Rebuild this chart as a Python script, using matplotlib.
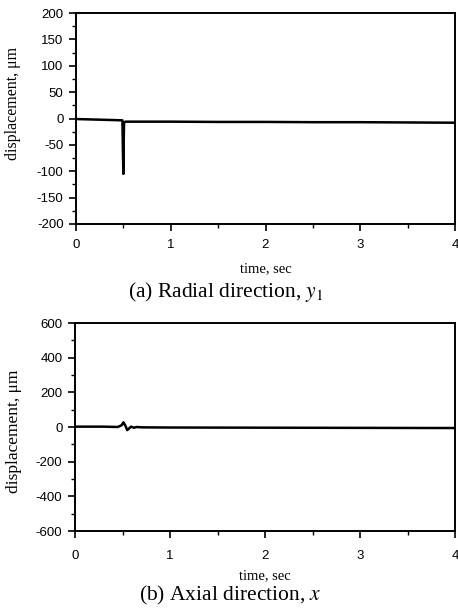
import matplotlib
matplotlib.use("Agg")
import matplotlib.pyplot as plt
from matplotlib.ticker import MultipleLocator

plt.rcParams["mathtext.fontset"] = "stix"
plt.rcParams["axes.unicode_minus"] = False

# Data
t_radial = [0.0, 0.1, 0.2, 0.3, 0.4, 0.49, 0.495, 0.5, 0.503, 0.507, 0.52, 0.6, 1.0, 1.5, 2.0, 2.5, 3.0, 3.5, 4.0]
y_radial = [-1, -1.5, -2, -2.5, -3, -3.5, -60, -105, -50, -8, -6, -6, -6, -6.5, -6.5, -7, -7, -7.5, -8]

t_axial = [0.0, 0.3, 0.45, 0.49, 0.51, 0.53, 0.55, 0.57, 0.59, 0.62, 0.65, 0.7, 1.0, 2.0, 3.0, 4.0]
y_axial = [2, 2, 0, 10, 27, 8, -18, -8, 2, -4, 0, -2, -3, -4, -5, -6]

x_ticks = [0, 1, 2, 3, 4]
radial_ticks = [-200, -150, -100, -50, 0, 50, 100, 150, 200]
axial_ticks = [-600, -400, -200, 0, 200, 400, 600]

xlabel = "time, sec"
ylabel = "displacement, \u03bcm"
caption_a = "(a) Radial direction, "
caption_b = "(b) Axial direction, "

W, H = 458, 616
fig = plt.figure(figsize=(W / 100, H / 100), dpi=100)

serif = ["Liberation Serif", "DejaVu Serif"]
sans = ["Liberation Sans", "DejaVu Sans"]


def style(ax, yticks, ymin_step, xpad, xlabpad, ylabsize):
    ax.set_xlim(0, 4)
    ax.set_xticks(x_ticks)
    ax.xaxis.set_minor_locator(MultipleLocator(0.5))
    ax.set_ylim(yticks[0], yticks[-1])
    ax.set_yticks(yticks)
    ax.yaxis.set_minor_locator(MultipleLocator(ymin_step))
    for s in ax.spines.values():
        s.set_linewidth(1.4)
    ax.tick_params(which="major", direction="out", length=5, width=1.2, labelsize=9.5, pad=4)
    ax.tick_params(axis="x", which="major", pad=xpad)
    ax.tick_params(which="minor", direction="out", length=3, width=1.0)
    for lab in ax.get_xticklabels() + ax.get_yticklabels():
        lab.set_family(sans)
    ax.set_xlabel(xlabel, family=serif, fontsize=10.5, labelpad=xlabpad)
    ax.set_ylabel(ylabel, family=serif, fontsize=ylabsize, labelpad=4)


ax1 = fig.add_axes([76 / W, 1 - 224 / H, 379 / W, 211 / H])
ax1.plot(t_radial, y_radial, color="black", lw=1.8)
style(ax1, radial_ticks, 25, 6, 8, 11.5)
ax1.yaxis.set_label_coords(-0.145, 0.57)

ax2 = fig.add_axes([75 / W, 1 - 531 / H, 380 / W, 208 / H])
ax2.plot(t_axial, y_axial, color="black", lw=1.8)
style(ax2, axial_ticks, 100, 9, 5, 12.5)
ax2.yaxis.set_label_coords(-0.14, 0.48)

fig.text(226 / W, 1 - 292 / H, caption_a + r"$\mathit{y}_{\mathit{1}}$",
         family=serif, fontsize=15.5, ha="center", va="center")
fig.text(230 / W, 1 - 595 / H, caption_b + r"$\mathit{x}$",
         family=serif, fontsize=15.5, ha="center", va="center")

fig.savefig("out.png", dpi=100)
